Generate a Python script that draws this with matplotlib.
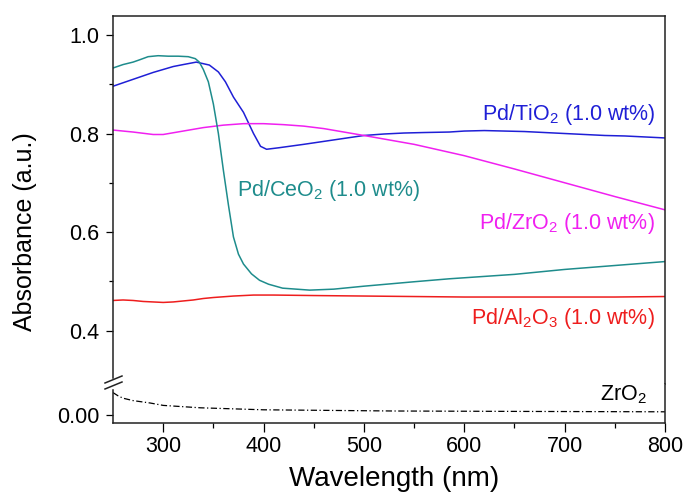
import matplotlib
matplotlib.use("Agg")
import matplotlib.pyplot as plt
from matplotlib.lines import Line2D
from matplotlib.ticker import FixedLocator, FormatStrFormatter

plt.rcParams["font.family"] = ["Liberation Sans", "DejaVu Sans"]

# UV-vis spectra: wavelength (nm) and absorbance (a.u.)
wl_tio2 = [250, 260, 270, 280, 290, 300, 310, 320, 333, 346, 355, 362, 370, 380, 390,
           397, 403, 415, 440, 460, 480, 500, 520, 540, 560, 585, 600, 620, 640, 660,
           680, 700, 720, 740, 760, 780, 800]
abs_tio2 = [0.896, 0.903, 0.910, 0.917, 0.924, 0.930, 0.936, 0.940, 0.945, 0.939, 0.925,
            0.905, 0.874, 0.843, 0.800, 0.774, 0.768, 0.771, 0.778, 0.784, 0.790, 0.796,
            0.799, 0.801, 0.802, 0.803, 0.805, 0.806, 0.805, 0.804, 0.802, 0.800, 0.798,
            0.796, 0.795, 0.793, 0.791]

wl_ceo2 = [250, 260, 270, 277, 285, 295, 305, 315, 325, 332, 336, 340, 345, 350, 355,
           360, 365, 370, 375, 380, 388, 396, 405, 419, 446, 470, 500, 550, 585, 650,
           700, 750, 800]
abs_ceo2 = [0.933, 0.940, 0.945, 0.950, 0.956, 0.958, 0.957, 0.957, 0.956, 0.952, 0.945,
            0.930, 0.905, 0.860, 0.800, 0.725, 0.655, 0.590, 0.555, 0.535, 0.515, 0.502,
            0.494, 0.486, 0.482, 0.484, 0.490, 0.499, 0.505, 0.514, 0.524, 0.532, 0.540]

wl_zro2_pd = [250, 270, 290, 300, 320, 340, 360, 380, 400, 420, 440, 460, 480, 500, 550,
              600, 650, 700, 750, 800]
abs_zro2_pd = [0.807, 0.803, 0.798, 0.798, 0.805, 0.812, 0.817, 0.820, 0.820, 0.818,
               0.815, 0.810, 0.803, 0.796, 0.778, 0.755, 0.728, 0.700, 0.672, 0.645]

wl_al2o3 = [250, 260, 270, 280, 290, 300, 310, 320, 330, 340, 350, 370, 390, 410, 450,
            500, 550, 600, 650, 700, 750, 800]
abs_al2o3 = [0.461, 0.462, 0.461, 0.459, 0.458, 0.457, 0.458, 0.460, 0.462, 0.465, 0.467,
             0.470, 0.472, 0.472, 0.471, 0.470, 0.469, 0.468, 0.468, 0.468, 0.468, 0.469]

wl_zro2 = [250, 255, 260, 270, 287, 300, 337, 400, 530, 650, 800]
abs_zro2 = [0.028, 0.024, 0.021, 0.018, 0.015, 0.012, 0.009, 0.0065, 0.005, 0.0045, 0.004]

top_ticks = [0.4, 0.6, 0.8, 1.0]
top_minor = [0.5, 0.7, 0.9]
bot_ticks = [0.0]
x_ticks = [300, 400, 500, 600, 700, 800]
x_minor = [350, 450, 550, 650, 750]

c_tio2 = "#1f1fd6"
c_ceo2 = "#1e8c8c"
c_zro2 = "#f020f0"
c_al2o3 = "#ee1d1d"

W, H = 686, 493
fig = plt.figure(figsize=(W / 100, H / 100), dpi=100)

def fy(px):
    return 1 - px / H

left, right = 113 / W, 665 / W
ax_top = fig.add_axes([left, fy(384), right - left, fy(16) - fy(384)])
ax_bot = fig.add_axes([left, fy(423), right - left, fy(384) - fy(423)])

for ax in (ax_top, ax_bot):
    ax.set_xlim(250, 800)
    for s in ax.spines.values():
        s.set_linewidth(1.1)
        s.set_color("#222222")
    ax.tick_params(which="major", direction="out", length=5, width=0.9, labelsize=15.5,
                   right=False, top=False, pad=5)
    ax.tick_params(which="minor", direction="out", length=3, width=0.9, right=False, top=False)

ax_top.set_ylim(0.2914, 1.0386)
ax_bot.set_ylim(-0.01, 0.03875)

# broken y axis: the two panels share one frame
ax_top.spines["bottom"].set_visible(False)
ax_bot.spines["top"].set_visible(False)
ax_top.spines["left"].set_bounds(0.3036, 1.0386)
ax_bot.spines["left"].set_bounds(-0.01, 0.0312)

ax_top.yaxis.set_major_locator(FixedLocator(top_ticks))
ax_top.yaxis.set_minor_locator(FixedLocator(top_minor))
ax_top.yaxis.set_major_formatter(FormatStrFormatter("%.1f"))
ax_top.tick_params(axis="x", which="both", bottom=False, labelbottom=False)

ax_bot.yaxis.set_major_locator(FixedLocator(bot_ticks))
ax_bot.yaxis.set_major_formatter(FormatStrFormatter("%.2f"))
ax_bot.xaxis.set_major_locator(FixedLocator(x_ticks))
ax_bot.xaxis.set_minor_locator(FixedLocator(x_minor))
ax_bot.tick_params(axis="x", which="major", length=6.5, pad=3)
ax_bot.tick_params(axis="x", which="minor", length=3.5)

lw = 1.1
ax_top.plot(wl_tio2, abs_tio2, color=c_tio2, lw=lw)
ax_top.plot(wl_zro2_pd, abs_zro2_pd, color=c_zro2, lw=lw)
ax_top.plot(wl_al2o3, abs_al2o3, color=c_al2o3, lw=lw)
ax_top.plot(wl_ceo2, abs_ceo2, color=c_ceo2, lw=lw)
ax_bot.plot(wl_zro2, abs_zro2, color="black", lw=0.9, linestyle=(0, (5, 2, 1, 2)))

fs = 15.5
ax_top.text(790, 0.838, r"Pd/TiO$_\mathregular{2}$ (1.0 wt%)", color=c_tio2, fontsize=fs,
            ha="right", va="center")
ax_top.text(790, 0.618, r"Pd/ZrO$_\mathregular{2}$ (1.0 wt%)", color=c_zro2, fontsize=fs,
            ha="right", va="center")
ax_top.text(373.5, 0.685, r"Pd/CeO$_\mathregular{2}$ (1.0 wt%)", color=c_ceo2, fontsize=fs,
            ha="left", va="center")
ax_top.text(790, 0.425, r"Pd/Al$_\mathregular{2}$O$_\mathregular{3}$ (1.0 wt%)", color=c_al2o3,
            fontsize=fs, ha="right", va="center")
ax_bot.text(782, 0.025, r"ZrO$_\mathregular{2}$", color="black", fontsize=fs,
            ha="right", va="center")

# axis break marks on the left spine
for y0 in (383, 389):
    fig.add_artist(Line2D([105 / W, 122 / W], [fy(y0), fy(y0 - 7)], color="#222222",
                          lw=1.1, transform=fig.transFigure))

fig.text(25 / W, fy(232), "Absorbance (a.u.)", rotation=90, fontsize=18,
         ha="center", va="center")
fig.text(394 / W, fy(466), "Wavelength (nm)", fontsize=20, ha="center", va="top")

fig.savefig("out.png", dpi=100)
plt.close(fig)
